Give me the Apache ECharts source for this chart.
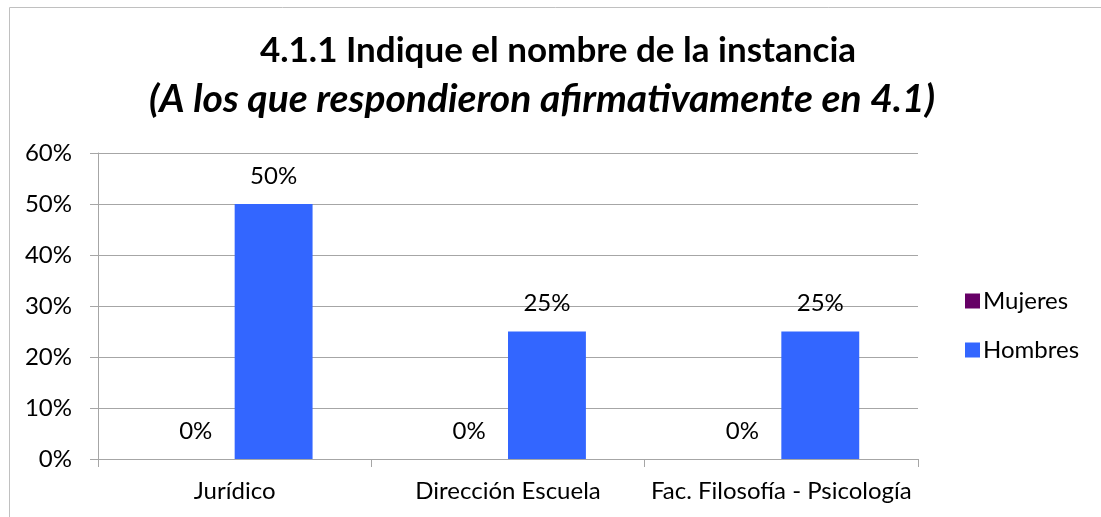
<!DOCTYPE html>
<html>
<head>
<meta charset="utf-8">
<script src="https://cdn.jsdelivr.net/npm/echarts@6/dist/echarts.min.js"></script>
<style>
  html, body { margin: 0; padding: 0; background: #fff; }
  #chart { width: 1101px; height: 517px; }
</style>
</head>
<body>
<div id="chart"></div>
<script>
// datos del gráfico
var categorias = ['Jurídico', 'Dirección Escuela', 'Fac. Filosofía - Psicología'];
var mujeres = [0, 0, 0];
var hombres = [50, 25, 25];
var colores = ['#660066', '#3366FF'];

var fuente = 'Lato, "Open Sans", sans-serif';

var myChart = echarts.init(document.getElementById('chart'));

var option = {
  animation: false,
  color: colores,
  textStyle: { fontFamily: fuente },
  graphic: [{
    type: 'rect',
    shape: { x: 9.5, y: 7.5, width: 1200, height: 600 },
    style: { fill: 'none', stroke: '#c0c0c0', lineWidth: 1 },
    silent: true
  }],
  title: [{
    text: '4.1.1 Indique el nombre de la instancia',
    left: 558,
    textAlign: 'center',
    top: 33,
    padding: 0,
    textStyle: { fontFamily: fuente, fontSize: 35, fontWeight: 'bold', color: '#000' }
  }, {
    text: '(A los que respondieron afirmativamente en 4.1)',
    left: 542,
    textAlign: 'center',
    top: 80,
    padding: 0,
    textStyle: { fontFamily: fuente, fontSize: 39, fontWeight: 'bold', fontStyle: 'italic', color: '#000' }
  }],
  legend: {
    orient: 'vertical',
    left: 960,
    top: 284,
    itemWidth: 15,
    itemHeight: 15,
    itemGap: 25,
    icon: 'rect',
    textStyle: { fontFamily: fuente, fontSize: 24, color: '#000', padding: [0, 0, 0, -2] },
    data: ['Mujeres', 'Hombres']
  },
  grid: {
    left: 98,
    right: 183,
    top: 153,
    bottom: 58,
    containLabel: false
  },
  xAxis: {
    type: 'category',
    data: categorias,
    axisLine: { lineStyle: { color: '#a6a6a6' } },
    axisTick: { show: true, length: 8, lineStyle: { color: '#a6a6a6' } },
    axisLabel: { fontFamily: fuente, fontSize: 24, color: '#000', margin: 20, interval: 0, hideOverlap: false }
  },
  yAxis: {
    type: 'value',
    min: 0,
    max: 60,
    interval: 10,
    axisLine: { show: true, lineStyle: { color: '#a6a6a6' } },
    axisTick: { show: true, length: 8, lineStyle: { color: '#a6a6a6' } },
    axisLabel: { fontFamily: fuente, fontSize: 24, color: '#000', margin: 26, formatter: '{value}%' },
    splitLine: { lineStyle: { color: '#a6a6a6' } }
  },
  series: [
    {
      name: 'Mujeres',
      type: 'bar',
      data: mujeres,
      barGap: '0%',
      barCategoryGap: '43%',
      label: { show: true, position: 'top', distance: 16, fontFamily: fuente, fontSize: 24, color: '#000', formatter: '{c}%' }
    },
    {
      name: 'Hombres',
      type: 'bar',
      data: hombres,
      label: { show: true, position: 'top', distance: 16, fontFamily: fuente, fontSize: 24, color: '#000', formatter: '{c}%' }
    }
  ]
};

myChart.setOption(option);
</script>
</body>
</html>
